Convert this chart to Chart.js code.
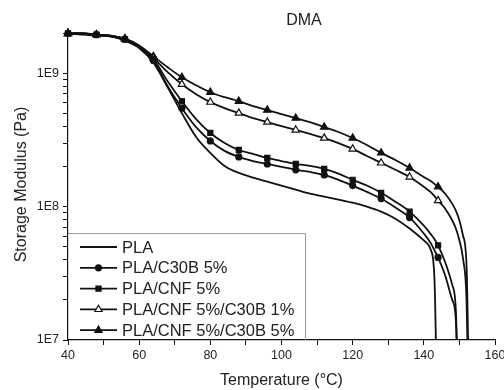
<!DOCTYPE html>
<html>
<head>
<meta charset="utf-8">
<script src="https://cdn.jsdelivr.net/npm/chart.js@4.4.0/dist/chart.umd.min.js"></script>
<style>
  html, body { margin: 0; padding: 0; background: #fff; overflow: hidden; }
  #caja { width: 515px; height: 390px; }
</style>
</head>
<body>
<div id="caja"><canvas id="grafica" width="515" height="390"></canvas></div>
<script>
// temperaturas (°C) y modulo de almacenamiento (Pa)
const temperaturas = [40, 44, 48, 52, 56, 60, 64, 68, 72, 76, 80, 84, 88, 92, 96, 100, 104, 108, 112, 116, 120, 124, 128, 132, 136, 140, 142, 143, 144, 146, 148, 149, 150, 151, 152, 153];

const pla = [1.99e9, 1.95e9, 1.92e9, 1.89e9, 1.76e9, 1.55e9, 1.20e9, 7.86e8, 5.03e8, 3.33e8, 2.53e8, 2.02e8, 1.79e8, 1.65e8, 1.54e8, 1.44e8, 1.34e8, 1.25e8, 1.19e8, 1.13e8, 1.07e8, 1.00e8, 9.18e7, 8.13e7, 6.86e7, 5.58e7, 4.70e7, 2.81e7, 1e6, null, null, null, null, null, null, null];
const plaC30b5 = [1.99e9, 1.99e9, 1.95e9, 1.89e9, 1.80e9, 1.56e9, 1.25e9, 8.0e8, 5.48e8, 3.95e8, 3.11e8, 2.62e8, 2.36e8, 2.20e8, 2.09e8, 1.99e8, 1.89e8, 1.82e8, 1.73e8, 1.59e8, 1.44e8, 1.29e8, 1.15e8, 9.84e7, 8.28e7, 6.29e7, 5.3e7, 4.7e7, 4.16e7, 3.05e7, 1.99e7, 1.41e7, 1e6, null, null, null];
const plaCnf5 = [1.99e9, 1.99e9, 1.95e9, 1.89e9, 1.80e9, 1.58e9, 1.28e9, 8.71e8, 6.18e8, 4.54e8, 3.57e8, 3.00e8, 2.66e8, 2.49e8, 2.32e8, 2.20e8, 2.09e8, 2.02e8, 1.92e8, 1.77e8, 1.59e8, 1.44e8, 1.27e8, 1.09e8, 9.18e7, 7.21e7, 6.2e7, 5.7e7, 5.12e7, 3.83e7, 2.58e7, 1.67e7, 1e6, null, null, null];
const plaCnf5C30b1 = [1.99e9, 1.99e9, 1.95e9, 1.92e9, 1.81e9, 1.60e9, 1.30e9, 1.02e9, 8.28e8, 6.97e8, 6.08e8, 5.48e8, 5.03e8, 4.61e8, 4.31e8, 4.02e8, 3.76e8, 3.51e8, 3.27e8, 3.00e8, 2.71e8, 2.40e8, 2.13e8, 1.89e8, 1.67e8, 1.41e8, 1.28e8, 1.20e8, 1.11e8, 9.66e7, 7.87e7, 6.86e7, 5.58e7, 4.09e7, 1.99e7, 1e6];
const plaCnf5C30b5 = [1.99e9, 1.99e9, 1.95e9, 1.92e9, 1.82e9, 1.62e9, 1.34e9, 1.11e9, 9.33e8, 8.13e8, 7.21e8, 6.62e8, 6.18e8, 5.67e8, 5.30e8, 4.94e8, 4.61e8, 4.31e8, 3.95e8, 3.63e8, 3.27e8, 2.90e8, 2.53e8, 2.24e8, 1.95e8, 1.67e8, 1.55e8, 1.48e8, 1.41e8, 1.25e8, 1.05e8, 9.33e7, 7.87e7, 6.08e7, 3.63e7, 1e6];

const etiquetasSeries = ['PLA', 'PLA/C30B 5%', 'PLA/CNF 5%', 'PLA/CNF 5%/C30B 1%', 'PLA/CNF 5%/C30B 5%'];
const etiquetasX = [40, 60, 80, 100, 120, 140, 160];
const decadasY = [1e7, 1e8, 1e9];
const etiquetasY = ['1E7', '1E8', '1E9'];
const titulo = 'DMA';

const negro = '#111';
const fuente = "'Liberation Sans', Arial, sans-serif";

Chart.defaults.font.family = fuente;
Chart.defaults.color = '#222';

// marcador cada 8 grados, hasta 144
function radioMarca(r) {
    return function (ctx) {
        const t = temperaturas[ctx.dataIndex];
        return (t % 8 === 0 && t <= 144) ? r : 0;
    };
}

function serie(etiqueta, valores, estilo, radio, relleno) {
    return {
        label: etiqueta,
        data: temperaturas.map((t, i) => ({ x: t, y: valores[i] })),
        borderColor: negro,
        borderWidth: 1.8,
        backgroundColor: relleno,
        pointStyle: estilo,
        pointRadius: estilo ? radioMarca(radio) : 0,
        pointHoverRadius: 0,
        pointBorderColor: negro,
        pointBackgroundColor: relleno,
        pointBorderWidth: 1.2,
        cubicInterpolationMode: 'monotone',
        spanGaps: false,
        clip: { left: 6, top: 6, right: 6, bottom: 0 },
        radioLeyenda: radio
    };
}

const leyendaInterna = {
    id: 'leyendaInterna',
    afterDatasetsDraw(chart) {
        const ctx = chart.ctx;
        const area = chart.chartArea;
        const arriba = 233, derecha = 305;
        ctx.save();
        ctx.fillStyle = '#fff';
        ctx.fillRect(area.left + 1, arriba, derecha - area.left - 1, area.bottom - arriba - 1);
        ctx.strokeStyle = '#999';
        ctx.lineWidth = 1;
        ctx.beginPath();
        ctx.moveTo(area.left, arriba + 0.5);
        ctx.lineTo(derecha + 0.5, arriba + 0.5);
        ctx.lineTo(derecha + 0.5, area.bottom);
        ctx.stroke();

        ctx.font = '16.5px ' + fuente;
        ctx.textBaseline = 'middle';
        chart.data.datasets.forEach((ds, i) => {
            const y = 247 + i * 20.8;
            ctx.strokeStyle = negro;
            ctx.lineWidth = ds.borderWidth;
            ctx.beginPath();
            ctx.moveTo(80, y);
            ctx.lineTo(117, y);
            ctx.stroke();
            if (ds.pointStyle) {
                ctx.fillStyle = ds.pointBackgroundColor;
                ctx.strokeStyle = negro;
                ctx.lineWidth = 1.2;
                Chart.helpers.drawPoint(ctx, {
                    pointStyle: ds.pointStyle, rotation: 0,
                    radius: ds.radioLeyenda, borderWidth: 1.2
                }, 98.5, y);
            }
            ctx.fillStyle = '#222';
            ctx.fillText(ds.label, 122, y + 1);
        });
        ctx.restore();
    }
};

const tituloGrafica = {
    id: 'tituloGrafica',
    afterDraw(chart) {
        const ctx = chart.ctx;
        ctx.save();
        ctx.font = '16px ' + fuente;
        ctx.fillStyle = '#222';
        ctx.textAlign = 'center';
        ctx.textBaseline = 'middle';
        ctx.fillText(titulo, 304, 21);
        ctx.restore();
    }
};

new Chart(document.getElementById('grafica'), {
    type: 'line',
    data: {
        datasets: [
            serie(etiquetasSeries[0], pla, false, 0, negro),
            serie(etiquetasSeries[1], plaC30b5, 'circle', 3, negro),
            serie(etiquetasSeries[2], plaCnf5, 'rect', 3.6, negro),
            serie(etiquetasSeries[3], plaCnf5C30b1, 'triangle', 4.2, '#fff'),
            serie(etiquetasSeries[4], plaCnf5C30b5, 'triangle', 4.2, negro)
        ]
    },
    options: {
        responsive: false,
        animation: false,
        devicePixelRatio: 1,
        layout: { padding: { top: 29, right: 20, left: 0, bottom: 0 } },
        plugins: {
            legend: { display: false },
            tooltip: { enabled: false }
        },
        scales: {
            x: {
                type: 'linear',
                min: 40,
                max: 160,
                grid: { drawOnChartArea: false, drawTicks: true, tickLength: 5, color: negro },
                border: { display: true, color: negro, width: 1.2 },
                ticks: {
                    stepSize: 10,
                    autoSkip: false,
                    maxRotation: 0,
                    padding: 3,
                    font: { size: 12.5 },
                    callback: (v) => etiquetasX.includes(v) ? String(v) : ''
                },
                title: {
                    display: true,
                    text: 'Temperature (°C)',
                    font: { size: 16 },
                    padding: { top: 0, bottom: 0 }
                },
                afterFit: (escala) => { escala.height = 50; }
            },
            y: {
                type: 'logarithmic',
                min: 1e7,
                max: 2.15e9,
                grid: { drawOnChartArea: false, drawTicks: true, tickLength: 5, color: negro },
                border: { display: true, color: negro, width: 1.2 },
                ticks: {
                    autoSkip: false,
                    padding: 4,
                    font: { size: 12.5 },
                    callback: (v) => {
                        const i = decadasY.findIndex(d => Math.abs(d - v) < 1);
                        return i >= 0 ? etiquetasY[i] : '';
                    }
                },
                afterBuildTicks: (escala) => {
                    const marcas = [];
                    decadasY.forEach(d => {
                        for (let m = 1; m <= 9; m++) {
                            if (m * d <= escala.max) marcas.push({ value: m * d, major: m === 1 });
                        }
                    });
                    escala.ticks = marcas;
                },
                title: {
                    display: true,
                    text: 'Storage Modulus (Pa)',
                    font: { size: 16 },
                    padding: { top: 12, bottom: 0 }
                },
                afterFit: (escala) => { escala.width = 68; }
            }
        }
    },
    plugins: [leyendaInterna, tituloGrafica]
});
</script>
</body>
</html>
